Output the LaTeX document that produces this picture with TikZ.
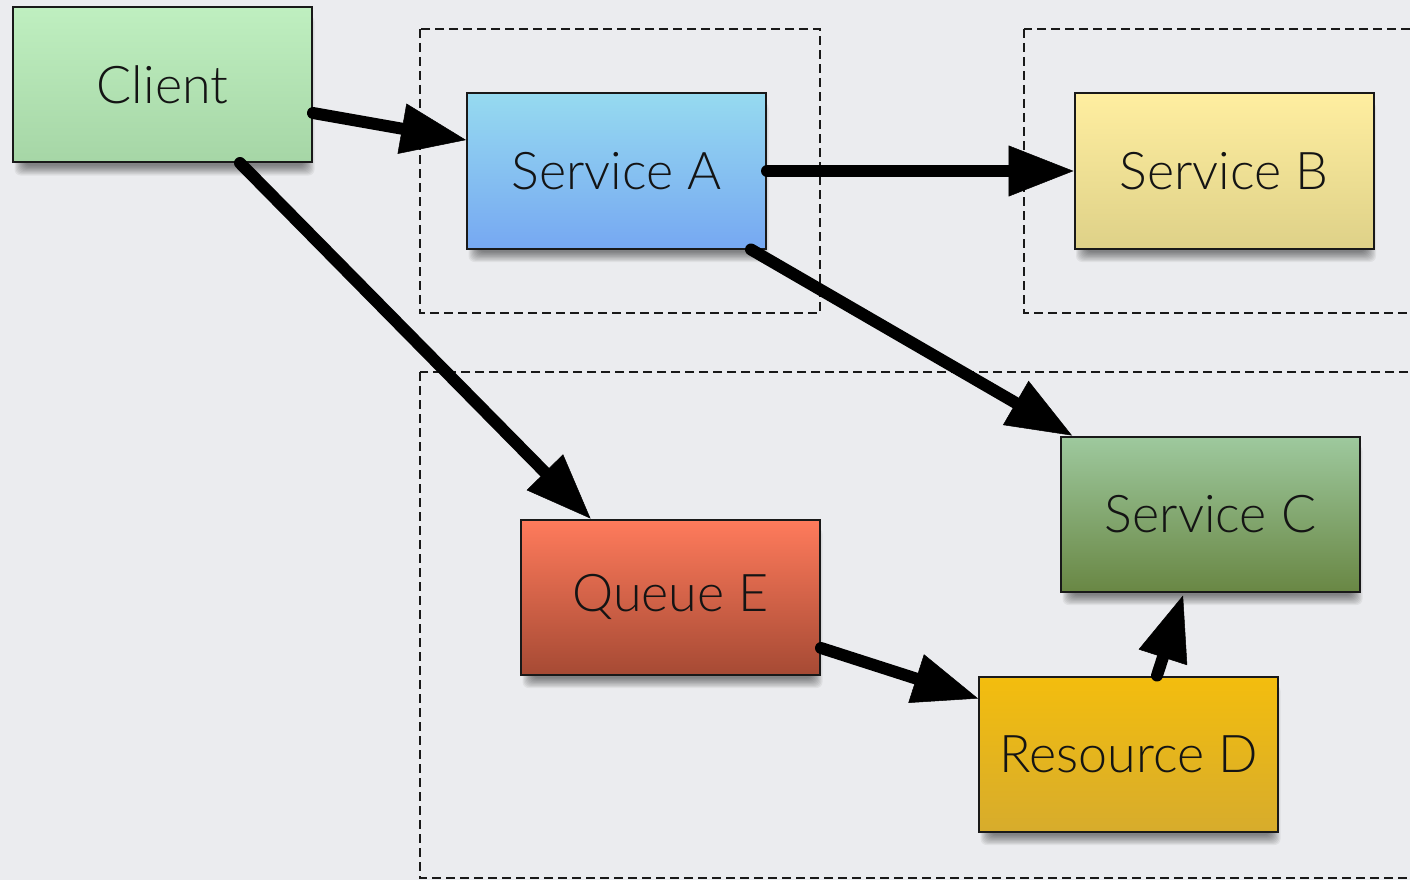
\documentclass[tikz,border=0pt]{standalone}
\usepackage{fontspec}
\setmainfont{Lato}[UprightFont={* Light}]
\usetikzlibrary{arrows.meta,calc}

\definecolor{bgcol}{HTML}{EBECEF}
\definecolor{clientTop}{HTML}{BFEFC0}\definecolor{clientBot}{HTML}{A6D6A6}
\definecolor{aTop}{HTML}{96DAF0}\definecolor{aBot}{HTML}{76A8F2}
\definecolor{bTop}{HTML}{FFEEA0}\definecolor{bBot}{HTML}{DED188}
\definecolor{cTop}{HTML}{9EC99E}\definecolor{cBot}{HTML}{698744}
\definecolor{eTop}{HTML}{FF7B5C}\definecolor{eBot}{HTML}{A64A34}
\definecolor{dTop}{HTML}{F3BD0E}\definecolor{dBot}{HTML}{D7AC2C}

\tikzset{
  box/.style={draw=black!90, line width=2pt, minimum width=299pt, minimum height=155pt,
    inner sep=0pt, font=\fontsize{52}{60}\selectfont, text=black!92},
  group/.style={draw=black!90, line width=1.8pt, dash pattern=on 9pt off 5pt},
  arr/.style={line width=12pt, line cap=round,
    -{Triangle[length=65pt,width=51pt,line width=0.5pt]}},
  softlayer/.style={fill=black, fill opacity=0.055, rounded corners=6pt},
}

% soft drop shadow under a box centred on the given coordinate
\newcommand\dropshadow[1]{%
  \foreach \r in {0,...,9}{%
    \fill[softlayer] ($(#1)+(-148+\r*1.1,-69+\r*1.1)$) rectangle ($(#1)+(152-\r*1.1,91-\r*1.1)$);
  }%
}

\begin{document}
\begin{tikzpicture}[x=1pt,y=-1pt]
  \useasboundingbox (0,0) rectangle (1410,880);
  \clip (0,0) rectangle (1410,880);
  \fill[bgcol] (0,0) rectangle (1410,880);

  % dashed grouping frames
  \draw[group] (420,29) rectangle (820,313);
  \draw[group] (1024,29) rectangle (1430,313);
  \draw[group] (420,372) rectangle (1430,878);

  % box centres
  \coordinate (pclient) at (162.5,84.5);
  \coordinate (psvca) at (616.5,171);
  \coordinate (psvcb) at (1224,171);
  \coordinate (psvcc) at (1210.5,514);
  \coordinate (pqueue) at (670.5,597);
  \coordinate (presd) at (1128.5,754);

  % shadows
  \dropshadow{pclient}
  \dropshadow{psvca}
  \dropshadow{psvcb}
  \dropshadow{psvcc}
  \dropshadow{pqueue}
  \dropshadow{presd}

  % components
  \node[box, top color=clientTop, bottom color=clientBot] (client) at (pclient) {Client};
  \node[box, top color=aTop, bottom color=aBot] (svca) at (psvca) {Service A};
  \node[box, top color=bTop, bottom color=bBot] (svcb) at (psvcb) {Service B};
  \node[box, top color=cTop, bottom color=cBot] (svcc) at (psvcc) {Service C};
  \node[box, top color=eTop, bottom color=eBot] (queue) at (pqueue) {Queue E};
  \node[box, top color=dTop, bottom color=dBot] (resd) at (presd) {Resource D};

  % connections
  \draw[arr] ([yshift=-28.5pt]client.east) -- ([yshift=31pt]svca.west);
  \draw[arr] ([xshift=77.5pt]client.south) -- ([xshift=-80pt]queue.north);
  \draw[arr] (svca.east) -- (svcb.west);
  \draw[arr] ([xshift=-16pt]svca.south east) -- ([xshift=12pt]svcc.north west);
  \draw[arr] ([yshift=-51pt]queue.east) -- ([yshift=-23pt]resd.north west);
  \draw[arr] ([xshift=28.5pt]resd.north) -- ([xshift=-27.5pt,yshift=-3pt]svcc.south);
\end{tikzpicture}
\end{document}
